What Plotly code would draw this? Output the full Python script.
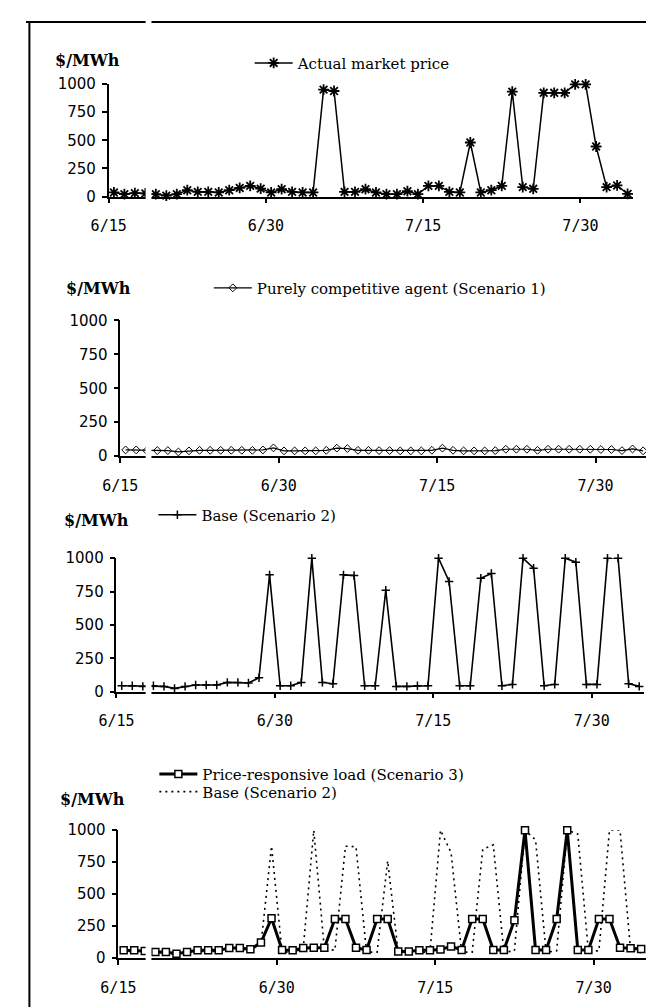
import plotly.graph_objects as go

# ---------------- data (daily, 6/15 .. 8/3) ----------------
actual_price = [38, 23, 32, 30, 23, 10, 23, 58, 43, 43, 38, 58, 78, 96, 72, 38, 67, 43,
                38, 38, 948, 936, 43, 43, 67, 38, 23, 23, 49, 23, 96, 96, 43, 38, 480,
                38, 58, 96, 930, 85, 70, 920, 920, 920, 995, 995, 445, 85, 100, 25]
scenario1 = [45, 45, 40, 40, 40, 30, 38, 42, 42, 42, 42, 42, 42, 45, 60, 38, 38, 38,
             38, 42, 58, 55, 42, 42, 40, 40, 38, 38, 38, 42, 58, 42, 38, 38, 38, 40,
             50, 50, 50, 42, 50, 50, 50, 50, 50, 48, 48, 40, 52, 38]
base_s2 = [45, 45, 40, 45, 40, 25, 40, 50, 50, 50, 70, 70, 65, 105, 875, 45, 45, 70,
           1000, 70, 60, 875, 870, 45, 45, 760, 40, 40, 45, 45, 1000, 825, 45, 45, 850,
           885, 45, 55, 1000, 925, 45, 55, 1000, 970, 55, 55, 1000, 1000, 60, 40]
scenario3 = [59, 59, 54, 46, 46, 33, 46, 59, 59, 59, 77, 77, 67, 120, 310, 62, 59, 78,
             80, 80, 304, 304, 80, 62, 304, 304, 51, 51, 59, 59, 65, 90, 62, 304, 304,
             62, 62, 295, 1000, 62, 62, 304, 1000, 62, 62, 304, 304, 80, 76, 69]
tick_vals = [0, 15, 30, 45]
tick_labels = ["6/15", "6/30", "7/15", "7/30"]
y_ticks = [0, 250, 500, 750, 1000]

W, H = 654, 1008
days = [i + 0.5 for i in range(len(actual_price))]


def fx(p):
    return p / W


def fy(p):
    return 1 - p / H


# panel geometry in pixels: (x_left, x_right, y_zero, y_1000)
panels = [(85, 624, 183, 68), (97, 640, 447, 309), (93, 636, 687, 551), (95, 638, 958, 828)]

fig = go.Figure()

fig.add_trace(go.Scatter(
    x=days, y=actual_price, mode="lines+markers", name="Actual market price",
    xaxis="x", yaxis="y", legend="legend", cliponaxis=False,
    line=dict(color="black", width=1.5),
    marker=dict(symbol="asterisk-open", size=9, color="black", line=dict(width=1.8, color="black"))))

fig.add_trace(go.Scatter(
    x=days, y=scenario1, mode="lines+markers", name="Purely competitive agent (Scenario 1)",
    xaxis="x2", yaxis="y2", legend="legend2", cliponaxis=False,
    line=dict(color="black", width=1.2),
    marker=dict(symbol="diamond-open", size=6, color="black", line=dict(width=1, color="black"))))

fig.add_trace(go.Scatter(
    x=days, y=base_s2, mode="lines+markers", name="Base (Scenario 2)",
    xaxis="x3", yaxis="y3", legend="legend3", cliponaxis=False,
    line=dict(color="black", width=1.6),
    marker=dict(symbol="cross-thin-open", size=6, color="black", line=dict(width=1.5, color="black"))))

fig.add_trace(go.Scatter(
    x=days, y=base_s2, mode="lines", name="Base (Scenario 2)",
    xaxis="x4", yaxis="y4", legend="legend5", cliponaxis=False,
    line=dict(color="black", width=1.6, dash="2px,4px")))

fig.add_trace(go.Scatter(
    x=days, y=scenario3, mode="lines+markers", name="Price-responsive load (Scenario 3)",
    xaxis="x4", yaxis="y4", legend="legend4", cliponaxis=False,
    line=dict(color="black", width=3),
    marker=dict(symbol="square", size=7, color="white", line=dict(width=1.5, color="black"))))

layout = dict(
    width=W, height=H, margin=dict(l=0, r=0, t=0, b=0),
    paper_bgcolor="white", plot_bgcolor="white", showlegend=True,
)

for i, (xl, xr, y0, y1) in enumerate(panels):
    s = "" if i == 0 else str(i + 1)
    layout["xaxis" + s] = dict(
        domain=[fx(xl), fx(xr)], anchor="y" + s, range=[0, 50],
        tickmode="array", tickvals=tick_vals, ticktext=tick_labels,
        showline=True, linecolor="black", linewidth=1.5,
        ticks="outside", ticklen=5, tickwidth=1.5, tickcolor="black",
        showgrid=False, zeroline=False, ticklabelstandoff=10,
        tickfont=dict(family="DejaVu Sans Mono", size=15, color="black"))
    layout["yaxis" + s] = dict(
        domain=[fy(y0), fy(y1)], anchor="x" + s, range=[0, 1000],
        tickmode="array", tickvals=y_ticks,
        showline=True, linecolor="black", linewidth=1.5,
        ticks="outside", ticklen=5, tickwidth=1.5, tickcolor="black",
        showgrid=False, zeroline=False, ticklabelstandoff=3,
        tickfont=dict(family="DejaVu Sans", size=15, color="black"))

leg_font = dict(family="DejaVu Serif", size=15, color="black")
leg_common = dict(bgcolor="rgba(0,0,0,0)", borderwidth=0, font=leg_font, itemwidth=38,
                  xanchor="left", yanchor="middle", itemclick=False)
layout["legend"] = dict(x=fx(230), y=fy(47), **leg_common)
layout["legend2"] = dict(x=fx(188), y=fy(276), **leg_common)
layout["legend3"] = dict(x=fx(131), y=fy(507), **leg_common)
layout["legend4"] = dict(x=fx(132), y=fy(771), **leg_common)
layout["legend5"] = dict(x=fx(132), y=fy(789), **leg_common)

unit_font = dict(family="DejaVu Serif", size=16, color="black")
annots = []
for cx, cy in [(63, 44), (75, 276), (72, 513), (68, 797)]:
    annots.append(dict(text="<b>$/MWh</b>", x=fx(cx), y=fy(cy), xref="paper", yref="paper",
                       xanchor="center", yanchor="middle", showarrow=False, font=unit_font))
layout["annotations"] = annots

layout["shapes"] = [
    dict(type="line", xref="paper", yref="paper", x0=0, x1=1, y0=fy(5), y1=fy(5),
         line=dict(color="black", width=2), layer="above"),
    dict(type="line", xref="paper", yref="paper", x0=fx(3.5), x1=fx(3.5), y0=0, y1=fy(5),
         line=dict(color="black", width=2), layer="above"),
    dict(type="rect", xref="paper", yref="paper", x0=fx(123), x1=fx(129), y0=0, y1=1,
         fillcolor="white", line=dict(width=0), layer="above"),
]

fig.update_layout(**layout)
fig.write_html("out.html")
